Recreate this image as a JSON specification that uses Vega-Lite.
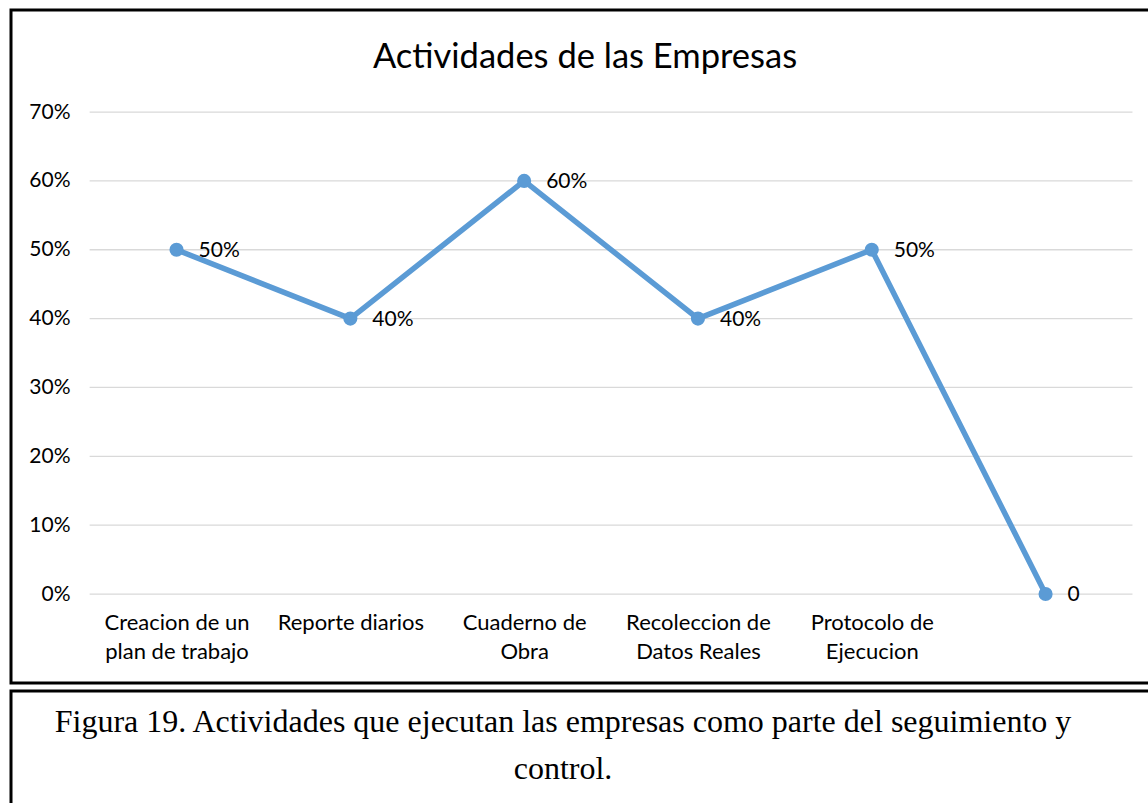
{
  "$schema": "https://vega.github.io/schema/vega-lite/v6.json",
  "padding": {"left": 9, "top": 8, "right": 0, "bottom": 0},
  "autosize": {"type": "pad"},
  "background": "white",
  "spacing": 4,
  "config": {
    "view": {"stroke": "black", "strokeWidth": 3},
    "font": "Lato"
  },
  "vconcat": [
    {
      "width": 1152,
      "height": 673,
      "view": {"stroke": "black", "strokeWidth": 3},
      "title": {
        "text": "Actividades de las Empresas",
        "font": "Lato",
        "fontSize": 34.5,
        "fontWeight": "normal",
        "color": "#000000",
        "anchor": "middle",
        "frame": "group",
        "baseline": "alphabetic",
        "offset": -92,
        "dx": -2
      },
      "encoding": {
        "x": {
          "field": "actividad",
          "type": "nominal",
          "scale": {
            "type": "point",
            "padding": 0.814,
            "align": 0.585,
            "domain": ["Creacion de un plan de trabajo", "Reporte diarios", "Cuaderno de Obra", "Recoleccion de Datos Reales", "Protocolo de Ejecucion", " "]
          },
          "axis": {
            "orient": "bottom",
            "offset": -91,
            "title": null,
            "domain": false,
            "ticks": false,
            "grid": false,
            "labelAngle": 0,
            "labelFont": "Lato",
            "labelFontSize": 22,
            "labelColor": "#000000",
            "labelPadding": 20,
            "labelLineHeight": 29,
            "labelLimit": 300,
            "labelOverlap": false,
            "labelExpr": "datum.value == 'Creacion de un plan de trabajo' ? ['Creacion de un', 'plan de trabajo'] : datum.value == 'Cuaderno de Obra' ? ['Cuaderno de', 'Obra'] : datum.value == 'Recoleccion de Datos Reales' ? ['Recoleccion de', 'Datos Reales'] : datum.value == 'Protocolo de Ejecucion' ? ['Protocolo de', 'Ejecucion'] : datum.label"
          }
        },
        "y": {
          "field": "value",
          "type": "quantitative",
          "scale": {"domain": [-0.1292, 0.8482], "nice": false, "zero": false},
          "axis": {
            "orient": "left",
            "offset": -81,
            "title": null,
            "values": [0, 0.1, 0.2, 0.3, 0.4, 0.5, 0.6, 0.7],
            "format": ".0%",
            "domain": false,
            "ticks": false,
            "grid": false,
            "labelFont": "Lato",
            "labelFontSize": 21,
            "labelColor": "#000000",
            "labelPadding": 22
          }
        }
      },
      "layer": [
        {
          "data": {"values": [
            {"value": 0}, {"value": 0.1}, {"value": 0.2}, {"value": 0.3},
            {"value": 0.4}, {"value": 0.5}, {"value": 0.6}, {"value": 0.7}
          ]},
          "mark": {"type": "rule", "color": "#d9d9d9", "strokeWidth": 1.3, "xOffset": -86.9, "x2Offset": 86.9},
          "encoding": {
            "x": {"datum": "Creacion de un plan de trabajo", "type": "nominal"},
            "x2": {"datum": " "}
          }
        },
        {
          "data": {"name": "actividades", "values": [
            {"actividad": "Creacion de un plan de trabajo", "value": 0.5, "label": "50%"},
            {"actividad": "Reporte diarios", "value": 0.4, "label": "40%"},
            {"actividad": "Cuaderno de Obra", "value": 0.6, "label": "60%"},
            {"actividad": "Recoleccion de Datos Reales", "value": 0.4, "label": "40%"},
            {"actividad": "Protocolo de Ejecucion", "value": 0.5, "label": "50%"},
            {"actividad": " ", "value": 0, "label": "0"}
          ]},
          "layer": [
            {"mark": {"type": "line", "color": "#5B9BD5", "strokeWidth": 5.5, "strokeCap": "round", "strokeJoin": "round"}},
            {"mark": {"type": "point", "filled": true, "color": "#5B9BD5", "opacity": 1, "size": 200}},
            {
              "mark": {"type": "text", "align": "left", "baseline": "middle", "dx": 22, "dy": 1, "font": "Lato", "fontSize": 21, "color": "#000000"},
              "encoding": {"text": {"field": "label", "type": "nominal"}}
            }
          ]
        }
      ]
    },
    {
      "width": 1152,
      "height": 130,
      "view": {"stroke": "black", "strokeWidth": 3},
      "data": {"values": [
        {"caption": ["Figura 19. Actividades que ejecutan las empresas como parte del seguimiento y", "control."]}
      ]},
      "mark": {"type": "text", "font": "Liberation Serif", "fontSize": 32, "color": "#000000", "align": "center", "baseline": "alphabetic", "lineHeight": 47, "dx": -24, "dy": -24},
      "encoding": {"text": {"field": "caption", "type": "nominal"}}
    }
  ]
}
